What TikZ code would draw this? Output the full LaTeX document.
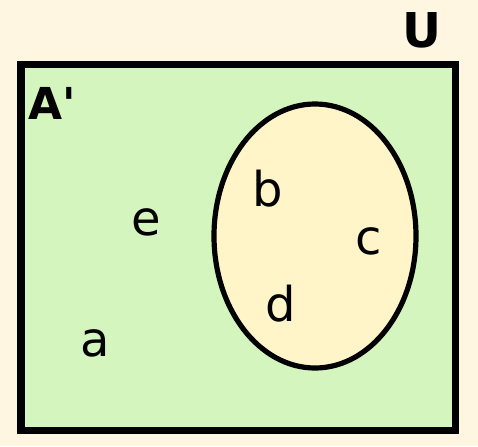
\documentclass[tikz,border=0pt]{standalone}
\usepackage{fontspec}
\setmainfont{DejaVu Sans}
\definecolor{paper}{RGB}{254,246,224}
\definecolor{leaf}{RGB}{212,245,190}
\definecolor{cream}{RGB}{255,245,200}
\tikzset{
  setline/.style={draw=black, line width=3.5pt},
  elem/.style={font=\fontsize{24}{28}\selectfont, inner sep=0pt},
  setname/.style={font=\fontsize{24}{28}\selectfont\bfseries, inner sep=0pt}
}
\begin{document}
\begin{tikzpicture}[x=0.5pt,y=-0.5pt]
        \fill[paper] (0,0) rectangle (478,446);
        \useasboundingbox (0,0) rectangle (478,446);

        \draw[setline, fill=leaf] (21,64) rectangle (455,430);
        \draw[setline, line width=2.6pt, fill=cream] (315,236) ellipse [x radius=101, y radius=132];

        \node[setname] (u) at (422,30) {U};
        \node[setname, font=\fontsize{22}{26}\selectfont\bfseries] (acomp) at (52,103) {A\textquotesingle};

        \node[elem] (e) at (146,222) {e};
        \node[elem] (a) at (95,343) {a};
        \node[elem] (b) at (268,189) {b};
        \node[elem] (c) at (369,241) {c};
        \node[elem] (d) at (281,304) {d};
    \end{tikzpicture}
\end{document}
